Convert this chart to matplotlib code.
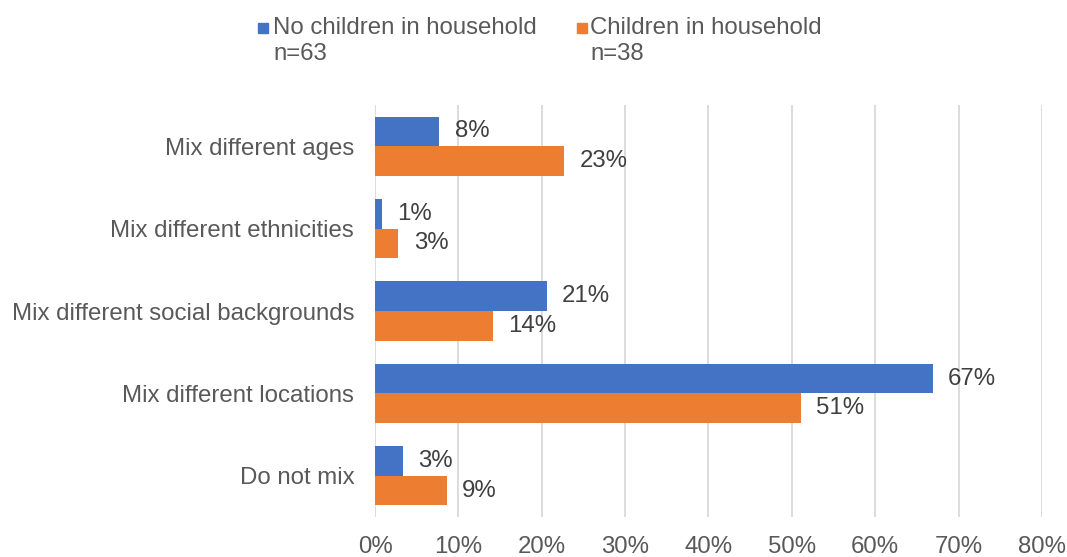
import numpy as np
import matplotlib.pyplot as plt
from matplotlib.patches import Rectangle

plt.rcParams['font.family'] = ['Liberation Sans', 'DejaVu Sans']

categories = ['Mix different ages', 'Mix different ethnicities',
              'Mix different social backgrounds', 'Mix different locations',
              'Do not mix']
no_children = [0.077, 0.008, 0.206, 0.669, 0.033]
children = [0.227, 0.028, 0.141, 0.511, 0.086]
series_names = ['No children in household\nn=63', 'Children in household\nn=38']
colors = ['#4472C4', '#ED7D31']
ticks = np.arange(0, 0.81, 0.1)

W, H = 1067, 557
fig = plt.figure(figsize=(W / 100, H / 100), dpi=100)
ax = fig.add_axes([0.3515, 0.0718, 0.625, 0.7397])

fs = 17.3
y = np.arange(len(categories))
h = 0.36
for vals, off, col in [(no_children, -h / 2, colors[0]), (children, h / 2, colors[1])]:
    bars = ax.barh(y + off, vals, height=h, color=col, zorder=3)
    for b, v in zip(bars, vals):
        ax.annotate(f'{v:.0%}', (b.get_width(), b.get_y() + b.get_height() / 2),
                    xytext=(11, 0), textcoords='offset points',
                    va='center', ha='left', fontsize=fs, color='#404040')

ax.set_ylim(len(categories) - 0.5, -0.5)
ax.set_xlim(0, 0.8)
ax.set_xticks(ticks)
ax.set_xticklabels([f'{t:.0%}' for t in ticks])
ax.set_yticks(y)
ax.set_yticklabels(categories)
ax.tick_params(axis='both', length=0, labelsize=fs, labelcolor='#595959')
ax.tick_params(axis='x', pad=14)
ax.tick_params(axis='y', pad=15)
ax.grid(axis='x', color='#D9D9D9', linewidth=1.3, zorder=0)
for s in ax.spines.values():
    s.set_visible(False)

# legend drawn by hand: square marker beside the first text line
for (x0, tx), name, col in zip([(258, 273), (577, 590)], series_names, colors):
    fig.patches.append(Rectangle((x0 / W, 1 - 33 / H), 10 / W, 10 / H,
                                 transform=fig.transFigure, color=col))
    fig.text(tx / W, 1 - 17 / H, name, fontsize=fs, color='#595959',
             ha='left', va='top', linespacing=1.25)

fig.savefig('out.png', dpi=100)
